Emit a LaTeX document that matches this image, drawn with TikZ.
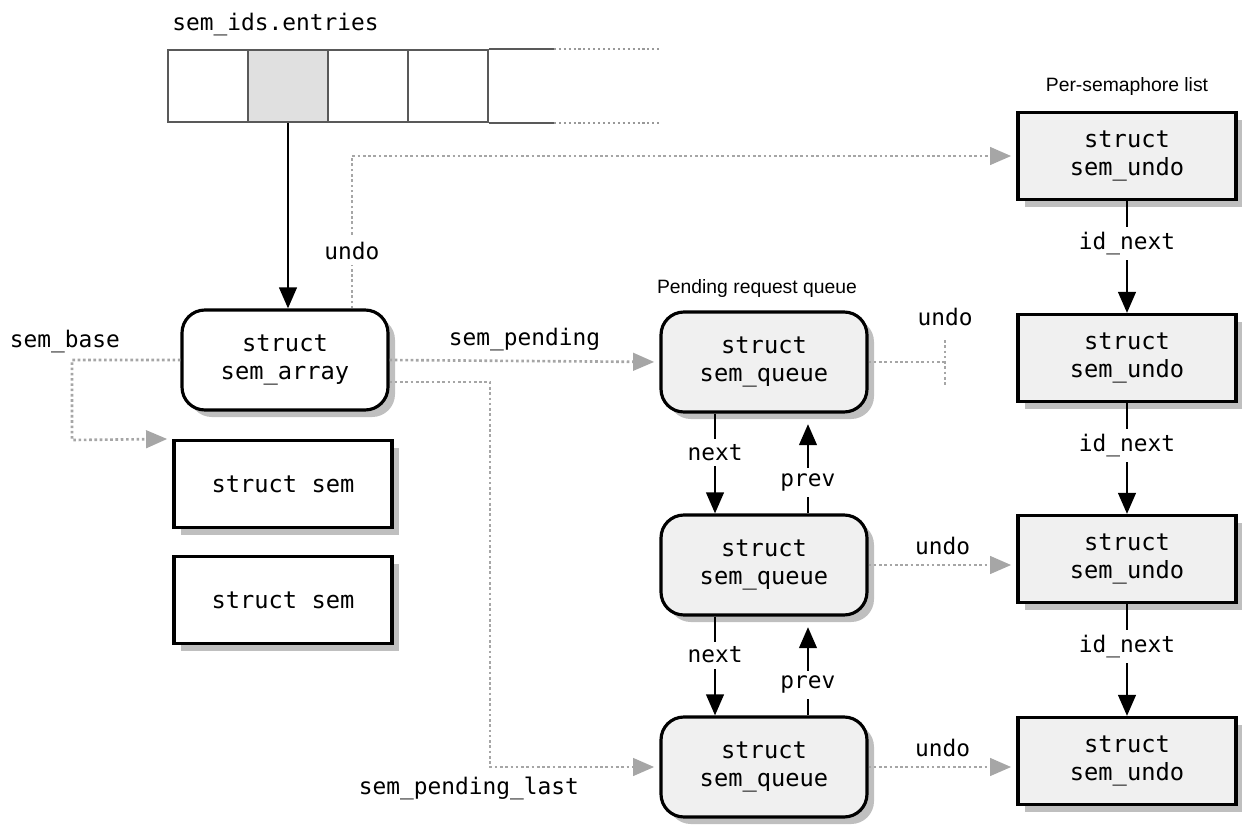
\documentclass[tikz,border=0pt]{standalone}
\usepackage{fontspec}
\setmonofont{DejaVu Sans Mono}
\newfontfamily\capfont{Liberation Sans}
\usetikzlibrary{arrows.meta,shadows}

\begin{document}
\begin{tikzpicture}[x=0.02cm, y=-0.02cm,
  >={Triangle[length=12pt,width=10pt]},
  lbl/.style={font=\ttfamily\fontsize{13}{15}\selectfont, inner sep=3pt},
  captxt/.style={font=\capfont\fontsize{11}{13}\selectfont},
  box/.style={draw, line width=1.8pt, align=center,
    minimum width=4.36cm, minimum height=1.74cm,
    font=\ttfamily\fontsize{13.5}{16}\selectfont,
    drop shadow={shadow xshift=4pt, shadow yshift=-4pt, opacity=0.25, fill=black}},
  rbox/.style={box, rounded corners=13pt, minimum width=4.12cm, minimum height=2cm},
  cell/.style={draw=black!65, line width=1pt, minimum width=1.6cm, minimum height=1.44cm},
  lnk/.style={->, line width=1.5pt},
  ptr/.style={->, draw=black!35, line width=1.5pt, dash pattern=on 1.5pt off 1.5pt,
    shorten >=3pt},
  nulp/.style={ptr, -, shorten >=0pt}]

\useasboundingbox (0,0) rectangle (1242,825);

%=== sem_ids.entries ===
\node[lbl, anchor=west, inner sep=0pt] (entlab) at (172,25) {sem\_ids.entries};
\foreach \i/\f in {1/white,2/black!12,3/white,4/white}
  \node[cell, fill=\f] (c\i) at ({128+80*\i},86) {};
\draw[black!65, line width=1pt] (c4.north east) -- ++(65,0) coordinate (ta);
\draw[black!65, line width=1pt] (c4.south east) -- ++(65,0) coordinate (tb);
\draw[black!40, line width=1.2pt, dash pattern=on 1.2pt off 1.6pt] (ta) -- ++(105,0);
\draw[black!40, line width=1.2pt, dash pattern=on 1.2pt off 1.6pt] (tb) -- ++(105,0);

%=== boxes ===
\node[rbox, fill=white] (arr) at (285,360) {struct\\sem\_array};
\node[box, fill=white] (s1) at (283,484) {struct sem};
\node[box, fill=white] (s2) at (283,600) {struct sem};

\foreach \n/\y in {1/362,2/565,3/767}
  \node[rbox, fill=black!6] (q\n) at (764,\y) {struct\\sem\_queue};
\foreach \n/\y in {1/156,2/358,3/559,4/761}
  \node[box, fill=black!6] (u\n) at (1127,\y) {struct\\sem\_undo};

\node[captxt] (pq) at (757,288) {Pending request queue};
\node[captxt] (ps) at (1127,87) {Per-semaphore list};

%=== solid links ===
\draw[lnk] (c2.south) -- (c2.south |- arr.north);

\foreach \a/\b in {1/2,2/3}{
  \draw[lnk] ([xshift=-0.98cm]q\a.south) --
    node[lbl, fill=white, pos=0.39]{next} ([xshift=-0.98cm]q\b.north);
  \draw[lnk, shorten >=6pt] ([xshift=0.88cm]q\b.north) --
    node[lbl, fill=white, pos=0.31]{prev} ([xshift=0.88cm]q\a.south);
}

\foreach \a/\b in {1/2,2/3,3/4}
  \draw[lnk] (u\a.south) -- node[lbl, fill=white, pos=0.38]{id\_next} (u\b.north);

%=== dotted pointers ===
\node[lbl] (sbl) at (65,342) {sem\_base};
\coordinate (bc) at (72,440);
\draw[ptr] (arr.west) -| (bc) -- (s1.north west);

\draw[ptr] ([xshift=1.34cm]arr.north) |-
  node[lbl, fill=white, pos=0.19]{undo} (u1.west);

\draw[ptr] (arr.east) -- node[lbl, above=2pt]{sem\_pending} (q1.west);

\node[lbl] (pll) at (469,788) {sem\_pending\_last};
\coordinate (pl) at (490,767);
\draw[ptr] ([yshift=-0.44cm]arr.east) -| (pl) -- (q3.west);

% undo of the first queue entry ends nowhere
\coordinate (nul) at (945,362);
\draw[nulp] (q1.east) -- (nul) node[lbl, above=17pt]{undo};
\draw[nulp] ([yshift=0.44cm]nul) -- ([yshift=-0.5cm]nul);

\draw[ptr] (q2.east) -- node[lbl, above=2pt]{undo} (q2.east -| u3.west);
\draw[ptr] (q3.east) -- node[lbl, above=2pt]{undo} (q3.east -| u4.west);

\end{tikzpicture}
\end{document}
